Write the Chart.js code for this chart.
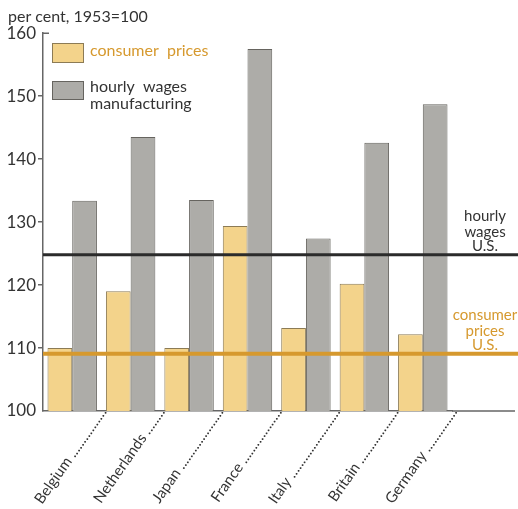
<!DOCTYPE html>
<html>
<head>
<meta charset="utf-8">
<script src="https://cdn.jsdelivr.net/npm/chart.js@4.4.0/dist/chart.umd.min.js"></script>
<style>
  body { margin: 0; background: #fff; }
</style>
</head>
<body>
<canvas id="chart" width="518" height="509"></canvas>
<script>
const countries = ["Belgium", "Netherlands", "Japan", "France", "Italy", "Britain", "Germany"];
const consumerPrices = [110, 119, 110, 129.4, 113.2, 120.2, 112.2];
const hourlyWages = [133.4, 143.5, 133.5, 157.5, 127.4, 142.6, 148.7];
const usHourlyWages = 124.8;
const usConsumerPrices = 109.1;
const yTicks = [100, 110, 120, 130, 140, 150, 160];

const FONT = "Lato, 'DejaVu Sans', sans-serif";
const YELLOW = "#f3d38b";
const GREY = "#adaca8";
const ORANGE = "#d6992e";
const DARK = "#333333";

// pad each country name with dots so all labels end up the same length
const measureCtx = document.createElement("canvas").getContext("2d");
measureCtx.font = "15px " + FONT;
const LABEL_LEN = 114;
function dotted(name) {
   const w = measureCtx.measureText(name + " ").width;
   const dot = measureCtx.measureText(".").width;
   const n = Math.max(0, Math.floor((LABEL_LEN - w) / dot));
   return name + " " + ".".repeat(n);
}

const extras = {
   id: "extras",
   afterDatasetsDraw(chart) {
      const { ctx, chartArea, scales } = chart;
      const y = scales.y;
      const W = chart.width;
      ctx.save();

      // US reference lines
      ctx.lineWidth = 3;
      ctx.strokeStyle = "#2b2b2b";
      ctx.beginPath();
      ctx.moveTo(chartArea.left, y.getPixelForValue(usHourlyWages));
      ctx.lineTo(W, y.getPixelForValue(usHourlyWages));
      ctx.stroke();

      ctx.lineWidth = 4;
      ctx.strokeStyle = ORANGE;
      ctx.beginPath();
      ctx.moveTo(chartArea.left, y.getPixelForValue(usConsumerPrices));
      ctx.lineTo(W, y.getPixelForValue(usConsumerPrices));
      ctx.stroke();

      // x axis continues past the last group, bracket at top of y axis
      ctx.lineWidth = 1.5;
      ctx.strokeStyle = "#666";
      ctx.beginPath();
      ctx.moveTo(chartArea.right, chartArea.bottom);
      ctx.lineTo(W - 3, chartArea.bottom);
      ctx.moveTo(chartArea.left, chartArea.top);
      ctx.lineTo(chartArea.left + 6, chartArea.top);
      ctx.stroke();

      // line labels
      ctx.font = "15px " + FONT;
      ctx.textAlign = "center";
      ctx.textBaseline = "middle";
      const lx = 485;
      const wy = y.getPixelForValue(usHourlyWages);
      ctx.fillStyle = DARK;
      ctx.fillText("hourly", lx, wy - 39);
      ctx.fillText("wages", lx, wy - 23);
      ctx.fillText("U.S.", lx, wy - 9);
      const cy = y.getPixelForValue(usConsumerPrices);
      ctx.fillStyle = ORANGE;
      ctx.fillText("consumer", lx, cy - 39);
      ctx.fillText("prices", lx, cy - 23);
      ctx.fillText("U.S.", lx, cy - 9);

      // legend
      ctx.lineWidth = 1;
      ctx.fillStyle = YELLOW;
      ctx.strokeStyle = "#8c7b55";
      ctx.fillRect(52, 43, 31, 19);
      ctx.strokeRect(52.5, 43.5, 31, 19);
      ctx.fillStyle = GREY;
      ctx.strokeStyle = "#66645f";
      ctx.fillRect(52, 81, 31, 18);
      ctx.strokeRect(52.5, 81.5, 31, 18);
      ctx.font = "16px " + FONT;
      ctx.textAlign = "left";
      ctx.fillStyle = ORANGE;
      ctx.fillText("consumer  prices", 90, 51);
      ctx.fillStyle = DARK;
      ctx.fillText("hourly  wages", 90, 87);
      ctx.fillText("manufacturing", 90, 104);
      ctx.restore();
   }
};

new Chart(document.getElementById("chart"), {
   type: "bar",
   data: {
      labels: countries,
      datasets: [
         {
            label: "consumer prices",
            data: consumerPrices,
            backgroundColor: YELLOW,
            borderColor: "#8c7b55",
            borderWidth: 1,
            barPercentage: 1,
            categoryPercentage: 0.846
         },
         {
            label: "hourly wages manufacturing",
            data: hourlyWages,
            backgroundColor: GREY,
            borderColor: "#66645f",
            borderWidth: 1,
            barPercentage: 1,
            categoryPercentage: 0.846
         }
      ]
   },
   options: {
      responsive: false,
      animation: false,
      layout: { padding: { left: 8, right: 66, top: 0, bottom: 0 } },
      plugins: {
         legend: { display: false },
         tooltip: { enabled: false },
         title: {
            display: true,
            text: "per cent, 1953=100",
            align: "start",
            color: DARK,
            font: { family: FONT, size: 16, weight: "normal" },
            padding: { top: 7, bottom: 7 }
         }
      },
      scales: {
         x: {
            grid: { display: false, drawTicks: false },
            border: { display: true, color: "#666", width: 1.5 },
            afterFit: s => { s.height = 98; },
            ticks: {
               autoSkip: false,
               minRotation: 55,
               maxRotation: 55,
               labelOffset: 31,
               padding: -7,
               color: DARK,
               font: { family: FONT, size: 15 },
               callback: (v, i) => dotted(countries[i])
            }
         },
         y: {
            min: 100,
            max: 160,
            afterFit: s => { s.width = 35; },
            afterBuildTicks: s => { s.ticks = yTicks.map(v => ({ value: v })); },
            grid: {
               drawOnChartArea: false,
               tickLength: 5,
               color: c => (c.tick && (c.tick.value === 100 || c.tick.value === 160)) ? "rgba(0,0,0,0)" : "#666",
               lineWidth: 1.5
            },
            border: { display: true, color: "#666", width: 1.5 },
            ticks: {
               padding: 2,
               color: DARK,
               font: { family: FONT, size: 17 }
            }
         }
      }
   },
   plugins: [extras]
});
</script>
</body>
</html>
